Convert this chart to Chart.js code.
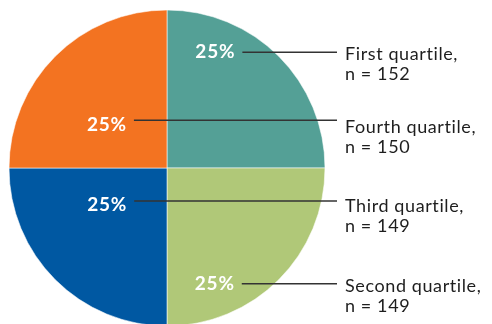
<!DOCTYPE html>
<html>
<head>
<meta charset="utf-8">
<script src="https://cdn.jsdelivr.net/npm/chart.js@4/dist/chart.umd.min.js"></script>
<style>
  html, body { margin: 0; padding: 0; background: #ffffff; }
  #wrap { width: 492px; height: 324px; position: relative; }
</style>
</head>
<body>
<div id="wrap"><canvas id="pie"></canvas></div>
<script>
// Quartile groups, in clockwise order from 12 o'clock
const categories = ['First quartile', 'Second quartile', 'Third quartile', 'Fourth quartile'];
// Share of respondents in each group (%)
const shares = [25, 25, 25, 25];
// Respondents in each group
const counts = [152, 149, 149, 150];

const colors = ['#54a096', '#b0c878', '#0058a2', '#f37321'];

// Where the percentage sits inside each slice:
// t = fraction of the way along the arc, r = fraction of the radius,
// dy = vertical nudge of the leader line relative to the percentage
const labelSpots = [
  { t: 0.25, r: 0.80, dy: 1 },
  { t: 0.75, r: 0.79, dy: 0.5 },
  { t: 0.66, r: 0.44, dy: -2.5 },
  { t: 0.40, r: 0.47, dy: -4 }
];

const calloutPlugin = {
  id: 'callouts',
  afterDatasetsDraw(chart) {
    const ctx = chart.ctx;
    const meta = chart.getDatasetMeta(0);
    const total = shares.reduce((a, b) => a + b, 0);
    const lineEndX = 337;
    const textX = 345;
    meta.data.forEach((arc, i) => {
      const p = arc.getProps(['x', 'y', 'startAngle', 'endAngle', 'outerRadius'], true);
      const spot = labelSpots[i];
      const ang = p.startAngle + spot.t * (p.endAngle - p.startAngle);
      const px = p.x + Math.cos(ang) * p.outerRadius * spot.r;
      const py = p.y + Math.sin(ang) * p.outerRadius * spot.r;

      const pct = Math.round(shares[i] / total * 100) + '%';
      ctx.save();
      ctx.font = 'bold 19px Lato';
      ctx.letterSpacing = '0.8px';
      ctx.fillStyle = '#ffffff';
      ctx.textAlign = 'center';
      ctx.textBaseline = 'middle';
      ctx.fillText(pct, px, py + 1);
      const w = ctx.measureText(pct).width;

      // leader line
      const ly = py + spot.dy;
      ctx.strokeStyle = '#333333';
      ctx.lineWidth = 1.5;
      ctx.beginPath();
      ctx.moveTo(px + w / 2 + 7, ly);
      ctx.lineTo(lineEndX, ly);
      ctx.stroke();

      // category name and count
      ctx.font = '18px Lato';
      ctx.letterSpacing = '0.6px';
      ctx.fillStyle = '#1e1e1e';
      ctx.textAlign = 'left';
      ctx.fillText(categories[i] + ',', textX, py + 3);
      ctx.fillText('n = ' + counts[i], textX, py + 23);
      ctx.restore();
    });
  }
};

new Chart(document.getElementById('pie'), {
  type: 'pie',
  data: {
    labels: categories,
    datasets: [{
      data: shares,
      backgroundColor: colors,
      borderColor: 'rgba(255,255,255,0.55)',
      borderWidth: 1,
      radius: 158,
      hoverOffset: 0
    }]
  },
  options: {
    responsive: true,
    maintainAspectRatio: false,
    animation: false,
    layout: { padding: { left: 9, right: 167, top: 12, bottom: 0 } },
    plugins: {
      legend: { display: false },
      tooltip: { enabled: false }
    }
  },
  plugins: [calloutPlugin]
});
</script>
</body>
</html>
